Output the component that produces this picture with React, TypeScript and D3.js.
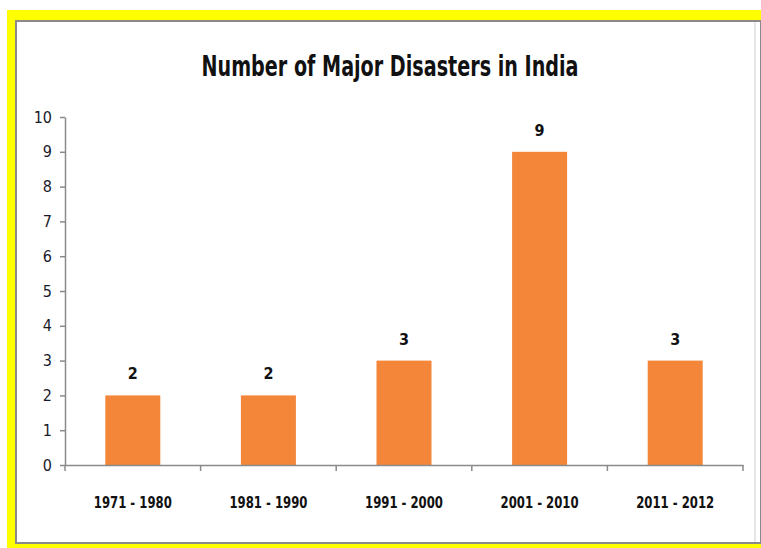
import React, { useEffect, useRef } from "react";
import * as d3 from "d3";

const periods = ["1971 - 1980", "1981 - 1990", "1991 - 2000", "2001 - 2010", "2011 - 2012"];
const disasters = [2, 2, 3, 9, 3];
const yTicks = [0, 1, 2, 3, 4, 5, 6, 7, 8, 9, 10];

const W = 761;
const H = 548;
const FONT = "'DejaVu Sans Condensed', 'Liberation Sans Narrow', 'Open Sans', sans-serif";

const App: React.FC = () => {
  const ref = useRef<SVGSVGElement>(null);

  useEffect(() => {
    if (!ref.current) return;
    const svg = d3.select(ref.current);
    svg.selectAll("*").remove();

    // yellow frame + grey border
    svg.append("rect").attr("x", 7).attr("y", 10).attr("width", W - 7).attr("height", H - 10).attr("fill", "#ffff00");
    svg.append("rect").attr("x", 16).attr("y", 21).attr("width", W - 16).attr("height", 522).attr("fill", "#ffffff").attr("stroke", "#8a8a8a").attr("stroke-width", 2);
    svg.append("line").attr("x1", 755).attr("x2", 755).attr("y1", 22).attr("y2", 542).attr("stroke", "#cfcfcf");

    const left = 65, right = 743, top = 117, bottom = 465;

    const x = d3.scaleBand<string>().domain(periods).range([left, right]).paddingInner(0).paddingOuter(0);
    const y = d3.scaleLinear().domain([0, 10]).range([bottom, top]);
    const barW = 55;

    svg.append("text")
      .attr("x", 390).attr("y", 76)
      .attr("text-anchor", "middle")
      .attr("font-family", FONT).attr("font-weight", "bold").attr("font-size", 28)
      .attr("textLength", 377).attr("lengthAdjust", "spacingAndGlyphs")
      .attr("fill", "#111")
      .text("Number of Major Disasters in India");

    // bars
    svg.selectAll("rect.bar").data(disasters).enter().append("rect")
      .attr("class", "bar")
      .attr("x", (_, i) => x(periods[i])! + x.bandwidth() / 2 - barW / 2)
      .attr("y", d => y(d))
      .attr("width", barW)
      .attr("height", d => y(0) - y(d))
      .attr("fill", "#f4863a");

    // value labels
    svg.selectAll("text.val").data(disasters).enter().append("text")
      .attr("class", "val")
      .attr("x", (_, i) => x(periods[i])! + x.bandwidth() / 2)
      .attr("y", d => y(d) - 16)
      .attr("text-anchor", "middle")
      .attr("font-family", FONT).attr("font-weight", "bold").attr("font-size", 16)
      .attr("fill", "#111")
      .text(d => d);

    // y axis
    const yAxis = svg.append("g").attr("transform", `translate(${left},0)`)
      .call(d3.axisLeft(y).tickValues(yTicks).tickSize(5).tickSizeOuter(0).tickPadding(8).tickFormat(d3.format("d")));
    yAxis.select(".domain").attr("stroke", "#8a8a8a").attr("stroke-width", 1.5);
    yAxis.selectAll(".tick line").attr("stroke", "#8a8a8a").attr("stroke-width", 1.5);
    yAxis.selectAll(".tick text").attr("font-family", FONT).attr("font-size", 16).attr("fill", "#1a1a2a");

    // x axis
    const xAxis = svg.append("g").attr("transform", `translate(0,${bottom})`)
      .call(d3.axisBottom(x).tickSize(0).tickPadding(32));
    xAxis.select(".domain").attr("stroke", "#8a8a8a").attr("stroke-width", 1.5);
    xAxis.selectAll(".tick text").attr("font-family", FONT).attr("font-weight", "bold").attr("font-size", 16)
      .attr("textLength", 78).attr("lengthAdjust", "spacingAndGlyphs").attr("fill", "#111");
    const edges = periods.map(p => x(p)!).concat([right]);
    xAxis.selectAll("line.edge").data(edges).enter().append("line")
      .attr("class", "edge")
      .attr("x1", d => d).attr("x2", d => d)
      .attr("y1", 0).attr("y2", 6)
      .attr("stroke", "#8a8a8a").attr("stroke-width", 1.5);
  }, []);

  return <svg ref={ref} width={W} height={H} style={{ position: "absolute", left: 0, top: 0 }} />;
};

export default App;
